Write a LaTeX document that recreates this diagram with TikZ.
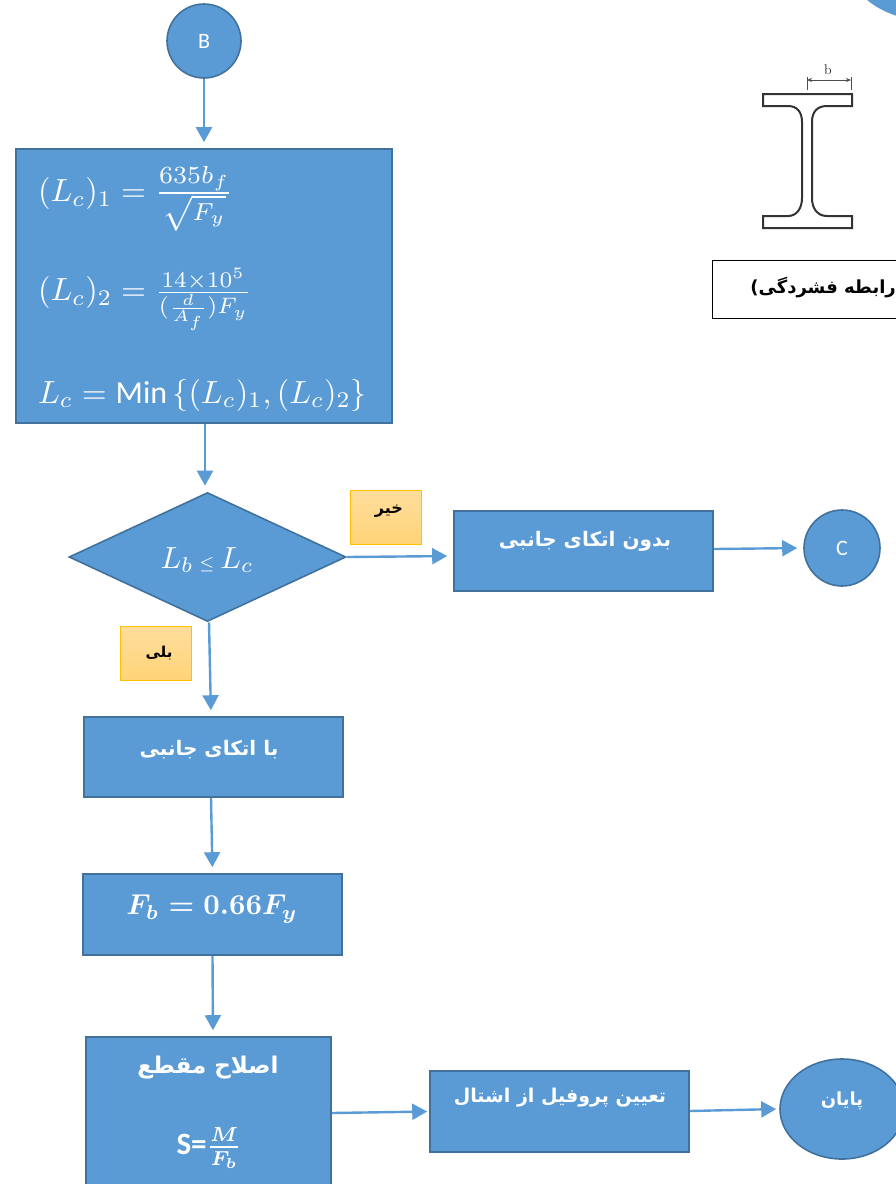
\documentclass[tikz,border=0pt]{standalone}
\usepackage{amsmath}
\usepackage{graphicx}
\usepackage{fontspec}
\usetikzlibrary{arrows.meta,shapes.geometric}
\TeXXeTstate=1
\newfontfamily\arabicfont[Script=Arabic]{DejaVu Sans}
\newfontfamily\carlitofont{Carlito}
\newcommand{\fa}[1]{\fontsize{#1}{#1}\selectfont\arabicfont\bfseries}
\definecolor{fillblue}{HTML}{5B9BD5}
\definecolor{edgeblue}{HTML}{41719C}
\definecolor{tagedge}{HTML}{FFC000}
\definecolor{tagtop}{HTML}{FFDD9C}
\definecolor{tagbot}{HTML}{FFD478}
\tikzset{
  blk/.style={draw=edgeblue,line width=1.6pt,fill=fillblue,rectangle,inner sep=0pt},
  circ/.style={draw=edgeblue,line width=1.6pt,fill=fillblue,ellipse,inner sep=0pt,text=white},
  lab/.style={text=white,inner sep=0pt},
  tag/.style={draw=tagedge,line width=1pt,top color=tagtop,bottom color=tagbot,rectangle,inner sep=0pt,minimum width=71pt,minimum height=54pt,text=black},
  conn/.style={draw=fillblue,line width=2.4pt,-{Triangle[length=15pt,width=16pt,fill=fillblue]},shorten >=6pt}
}
\begin{document}
\begin{tikzpicture}[x=1pt,y=-1pt]
\useasboundingbox (0,0) rectangle (896,1184);
\clip (0,0) rectangle (896,1184);
\fill[fillblue] (866,-1) .. controls (875,7) and (885,12) .. (897,16) -- (897,-1) -- cycle;

% nodes
\node[circ,minimum width=74pt,minimum height=74pt] (B) at (204,41) {\raisebox{-5pt}{\carlitofont\fontsize{22}{22}\selectfont B}};
\node[blk,minimum width=376pt,minimum height=274pt] (main) at (204,286) {};
\node[lab,anchor=west] (eqa) at (38,199) {\scalebox{3.2}{$(L_c)_1=\scalebox{1.1}{$\frac{635b_f}{\sqrt{F_y}}$}$}};
\node[lab,anchor=west] (eqb) at (38,299) {\scalebox{3.2}{$(L_c)_2=\frac{14\times 10^5}{(\frac{d}{A_f})F_y}$}};
\node[lab,anchor=west] (eqc) at (38,395) {\scalebox{3.2}{$L_c=\mbox{\carlitofont Min}\,\{(L_c)_1,(L_c)_2\}$}};

\node[diamond,draw=edgeblue,line width=1.6pt,fill=fillblue,aspect=2.15,minimum width=277pt,minimum height=129pt,inner sep=0pt] (dec) at (207.5,557) {};
\node[lab] (declab) at (207,560) {\scalebox{3.05}{$L_b\,{\scriptscriptstyle\leq}\,L_c$}};

\node[tag] (no) at (385.5,517) {};
\node[inner sep=0pt] (nolab) at (389,511) {\fa{16}\beginR خیر\endR};
\node[tag] (yes) at (156,653.5) {};
\node[inner sep=0pt] (yeslab) at (159,653) {\fa{15}\beginR بلی\endR};

\node[blk,minimum width=259pt,minimum height=80pt] (lat) at (583.5,551) {};
\node[lab] (latlab) at (585,541) {\fa{20}\beginR بدون اتکای جانبی\endR};
\node[circ,minimum width=76pt,minimum height=76pt] (C) at (842,548) {\raisebox{-5pt}{\carlitofont\fontsize{22}{22}\selectfont C}};

\node[blk,minimum width=259pt,minimum height=80pt] (wlat) at (213.5,757) {};
\node[lab] (wlatlab) at (209,750) {\fa{20}\beginR با اتکای جانبی\endR};

\node[blk,minimum width=259pt,minimum height=81pt] (fb) at (212.5,914.5) {};
\node[lab] (fblab) at (212,909) {\scalebox{2.87}{$\boldsymbol{F_b=0.66F_y}$}};

\node[blk,minimum width=245pt,minimum height=150pt] (sec) at (208.5,1112) {};
\node[lab] (seclab) at (208,1068) {\fa{23}\beginR اصلاح مقطع\endR};
\node[lab] (seceq) at (209,1148) {{\carlitofont\bfseries\fontsize{31}{31}\selectfont S=}\scalebox{2.9}{$\boldsymbol{\frac{M}{F_b}}$}};

\node[blk,minimum width=259pt,minimum height=81pt] (prof) at (559.5,1111.5) {};
\node[lab] (proflab) at (560,1098) {\fa{19}\beginR تعیین پروفیل از اشتال\endR};
\node[circ,minimum width=124pt,minimum height=100pt] (end) at (842,1109) {};
\node[lab] (endlab) at (842,1101) {\fa{18}\beginR پایان\endR};

% connectors
\draw[conn] (B.south) -- (main.north);
\draw[conn] ([xshift=1pt]main.south) -- ([xshift=-2.5pt]dec.north);
\draw[conn] (dec.east) -- ([yshift=-5pt]lat.west);
\draw[conn] ([yshift=2pt]lat.east) -- (C.west);
\draw[conn] ([xshift=1.5pt]dec.south) -- ([xshift=-2.5pt]wlat.north);
\draw[conn] ([xshift=-2.5pt]wlat.south) -- (fb.north);
\draw[conn] (fb.south) -- ([xshift=4.5pt]sec.north);
\draw[conn,shorten >=2pt] ([yshift=-1pt]sec.east) -- (prof.west);
\draw[conn,shorten >=3pt] ([yshift=.5pt]prof.east) -- (end.west);

% section sketch
\draw[line width=2pt,draw=black!80,fill=white]
  (763,94) -- (852,94) -- (852,106) -- (827,106)
  .. controls (817,106) and (812,112) .. (812,122) -- (812,198)
  .. controls (812,208) and (817,216) .. (827,216) -- (852,216) -- (852,228) -- (763,228) -- (763,216) -- (788,216)
  .. controls (797,216) and (802,208) .. (802,198) -- (802,122)
  .. controls (802,112) and (797,106) .. (788,106) -- (763,106) -- cycle;
\coordinate (dl) at (807,80);
\coordinate (dr) at (851,80);
\draw[black!70,line width=.8pt] (807,77) -- (807,90) (851,77) -- (851,90);
\draw[black!70,line width=.8pt,{Stealth[length=5pt,width=4pt]}-{Stealth[length=5pt,width=4pt]}] (dl) -- (dr);
\node[inner sep=0pt,text=black!85,font=\fontsize{14}{14}\selectfont] (blab) at (828,70) {b};

\node[draw=black,line width=1pt,fill=white,rectangle,inner sep=0pt,minimum width=200pt,minimum height=58pt] (rel) at (812,289) {};
\node[inner sep=0pt,anchor=east] (rellab) at (896,288) {\fa{18}\beginR رابطه فشردگی)\endR};
\end{tikzpicture}
\end{document}
